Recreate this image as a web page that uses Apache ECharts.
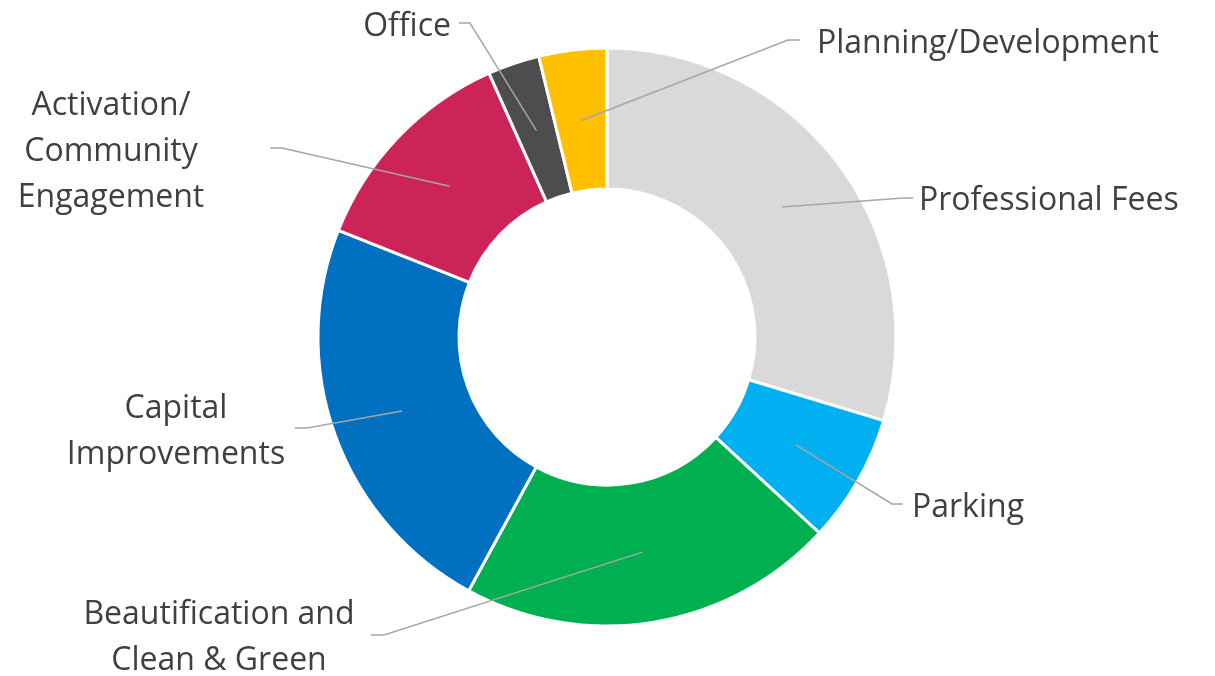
<!DOCTYPE html>
<html>
<head>
<meta charset="utf-8">
<title>Budget breakdown</title>
<script src="https://cdn.jsdelivr.net/npm/echarts@6/dist/echarts.min.js"></script>
<style>
  html, body { margin: 0; padding: 0; background: #fff; }
  #main { width: 1215px; height: 676px; }
</style>
</head>
<body>
<div id="main"></div>
<script>
// slices, clockwise from 12 o'clock
var categories = [
  "Professional Fees",
  "Parking",
  "Beautification and\nClean & Green",
  "Capital\nImprovements",
  "Activation/\nCommunity\nEngagement",
  "Office",
  "Planning/Development"
];
var values = [29.7, 7.2, 21.1, 23.1, 12.3, 2.9, 3.8];
var colors = ["#D9D9D9", "#00B0F0", "#00B050", "#0070C0", "#CC2458", "#4D4D4D", "#FFC000"];

// where each label sits (x, y, align) and where its leader line ends (lx, bx = bend, ly)
var labelPos = [
  { x: 919, y: 201, align: "left", lx: 913, bx: 903, ly: 198 },
  { x: 912, y: 508, align: "left", lx: 903, bx: 892, ly: 504 },
  { x: 219, y: 638, align: "center", lx: 371, bx: 384, ly: 635 },
  { x: 176, y: 432, align: "center", lx: 295, bx: 307, ly: 428 },
  { x: 111, y: 152, align: "center", lx: 270, bx: 282, ly: 148 },
  { x: 451, y: 27, align: "right", lx: 459, bx: 470, ly: 23 },
  { x: 817, y: 44, align: "left", lx: 800, bx: 788, ly: 40 }
];

var chart = echarts.init(document.getElementById("main"));

chart.setOption({
  animation: false,
  series: [
    {
      // the donut itself
      type: "pie",
      z: 2,
      center: [607, 337],
      radius: [148, 289],
      startAngle: 90,
      silent: true,
      label: { show: false },
      labelLine: { show: false },
      itemStyle: { borderColor: "#fff", borderWidth: 3 },
      data: values.map(function (v, i) {
        return { name: categories[i], value: v, itemStyle: { color: colors[i] } };
      })
    },
    {
      // invisible pie at mid radius, only carries labels and leader lines
      type: "pie",
      z: 3,
      center: [607, 337],
      radius: [0, 218],
      startAngle: 90,
      silent: true,
      avoidLabelOverlap: false,
      itemStyle: { color: "rgba(0,0,0,0)" },
      label: {
        show: true,
        position: "outside",
        color: "#404040",
        fontFamily: "Open Sans",
        fontSize: 32,
        lineHeight: 46
      },
      labelLine: {
        show: true,
        length: 20,
        length2: 10,
        lineStyle: { color: "#A6A6A6", width: 1.5 }
      },
      labelLayout: function (params) {
        var p = labelPos[params.dataIndex];
        var out = { x: p.x, y: p.y, align: p.align, verticalAlign: "middle" };
        if (params.labelLinePoints) {
          out.labelLinePoints = [params.labelLinePoints[0], [p.bx, p.ly], [p.lx, p.ly]];
        }
        return out;
      },
      data: values.map(function (v, i) {
        return { name: categories[i], value: v };
      })
    }
  ]
});
</script>
</body>
</html>
